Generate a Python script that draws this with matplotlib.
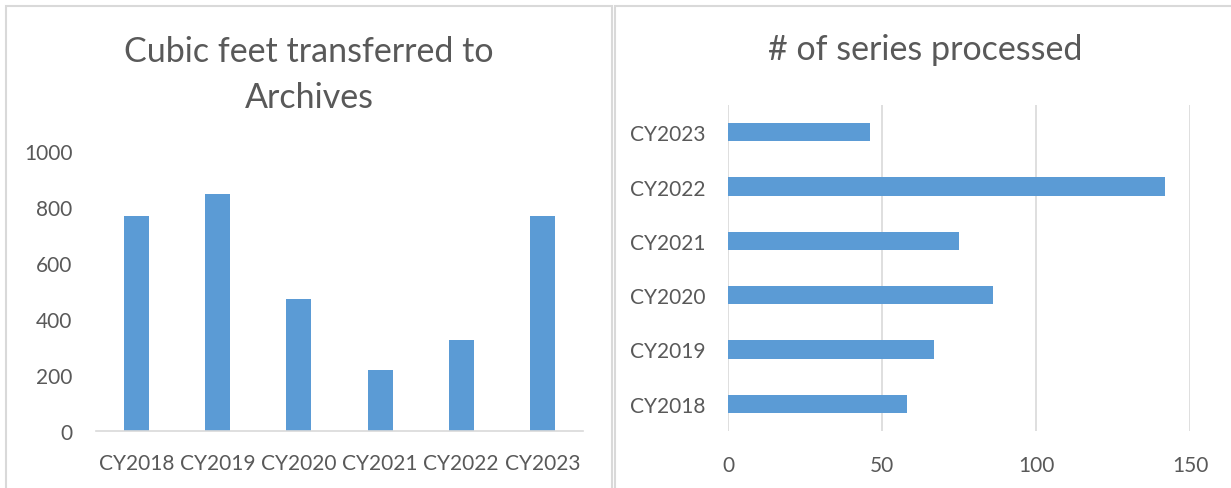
import matplotlib
matplotlib.use("Agg")
import matplotlib.pyplot as plt
from matplotlib.patches import Rectangle

plt.rcParams['font.family'] = ['Lato', 'DejaVu Sans']

# Data
years = ["CY2018", "CY2019", "CY2020", "CY2021", "CY2022", "CY2023"]
cubic_feet = [768, 846, 472, 219, 326, 768]
series_processed = [58, 67, 86, 75, 142, 46]
left_yticks = [0, 200, 400, 600, 800, 1000]
right_xticks = [0, 50, 100, 150]

BAR = "#5B9BD5"
TXT = "#595959"
GRID = "#D9D9D9"
W, H = 1231, 489

fig = plt.figure(figsize=(W / 100, H / 100), dpi=100)
fig.patch.set_facecolor("white")

def fr(x0, x1, ytop, ybot):
    return [x0 / W, (H - ybot) / H, (x1 - x0) / W, (ybot - ytop) / H]

# Panel borders
for (x0, x1) in [(6, 612), (615, 1240)]:
    fig.patches.append(Rectangle((x0 / W, -0.05), (x1 - x0) / W, (H - 7) / H + 0.05,
                                 transform=fig.transFigure, fill=False,
                                 edgecolor=GRID, linewidth=1.5))

# Left chart
ax1 = fig.add_axes(fr(96, 583, 152, 432))
x = range(len(years))
ax1.bar(x, cubic_feet, width=0.31, color=BAR, zorder=2)
ax1.set_xlim(-0.5, len(years) - 0.5)
ax1.set_ylim(0, 1000)
ax1.set_yticks(left_yticks)
ax1.set_xticks(list(x))
ax1.set_xticklabels(years)
for s in ["top", "right", "left"]:
    ax1.spines[s].set_visible(False)
ax1.spines["bottom"].set_color(GRID)
ax1.spines["bottom"].set_linewidth(1.2)
ax1.tick_params(axis="both", length=0, labelsize=15, colors=TXT)
ax1.tick_params(axis="x", pad=16)
ax1.tick_params(axis="y", pad=17)
fig.text(309 / W, 1 - 52 / H, "Cubic feet transferred to", ha="center", va="center",
         fontsize=24.5, color=TXT)
fig.text(309 / W, 1 - 98 / H, "Archives", ha="center", va="center",
         fontsize=24.5, color=TXT)

# Right chart
ax2 = fig.add_axes(fr(728, 1190, 106, 432))
y = range(len(years))
ax2.barh(y, series_processed, height=0.34, color=BAR, zorder=2)
ax2.set_ylim(-0.5, len(years) - 0.5)
ax2.set_xlim(0, 150)
ax2.set_xticks(right_xticks)
ax2.set_yticks(list(y))
ax2.set_yticklabels(years)
for s in ["top", "right", "left", "bottom"]:
    ax2.spines[s].set_visible(False)
ax2.xaxis.grid(True, color=GRID, linewidth=1.2, zorder=0)
ax2.set_axisbelow(True)
ax2.tick_params(axis="both", length=0, labelsize=15, colors=TXT)
ax2.tick_params(axis="x", pad=17)
ax2.tick_params(axis="y", pad=16)
fig.text(925 / W, 1 - 50 / H, "# of series processed", ha="center", va="center",
         fontsize=24.5, color=TXT)

fig.savefig("out.png", dpi=100, facecolor="white")
